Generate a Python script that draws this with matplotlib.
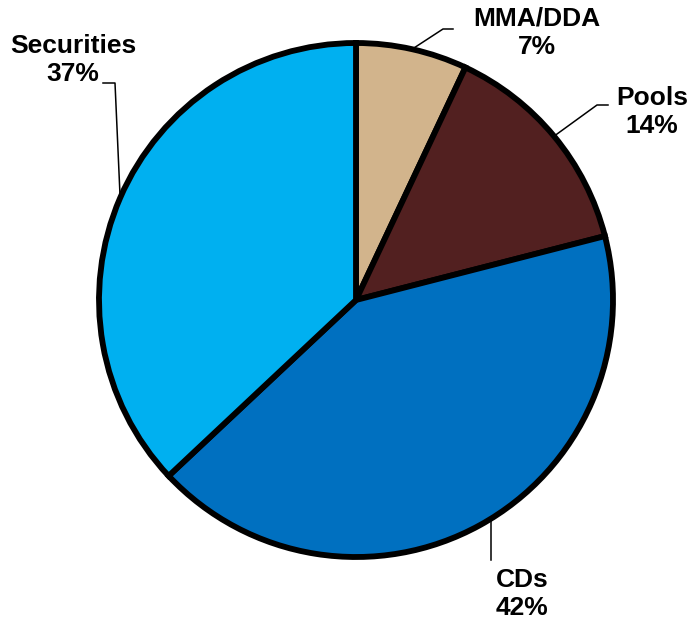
import numpy as np
import matplotlib.pyplot as plt

labels = ['MMA/DDA', 'Pools', 'CDs', 'Securities']
shares = [7, 14, 42, 37]
colors = ['#D2B48C', '#522020', '#0070C0', '#00B0F0']

# label block centre and leader-line elbow/end, in pixels from top-left
label_pos = [(537, 33), (652, 112), (522, 594), (73, 60)]
elbows = [[(443, 29), (453, 29)],
          [(597, 105), (608, 105)],
          [(491, 560)],
          [(115, 83), (103, 83)]]
# CDs line drops straight down from the rim
vertical_start = [False, False, True, False]

W, H = 696, 626
cx, cy, r = 356, 300, 257

plt.rcParams['font.family'] = ['Liberation Sans', 'DejaVu Sans']

fig = plt.figure(figsize=(W / 100, H / 100), dpi=100)
ax = fig.add_axes([0, 0, 1, 1])
ax.axis('off')

wedges, _ = ax.pie(shares, colors=colors, startangle=90, counterclock=False,
                   center=(cx, H - cy), radius=r,
                   wedgeprops=dict(edgecolor='black', linewidth=4.2))
ax.set_xlim(0, W)
ax.set_ylim(0, H)
ax.set_aspect('equal')

for w, name, val, (lx, ly), pts, vert in zip(wedges, labels, shares,
                                             label_pos, elbows, vertical_start):
    if vert:
        sx = pts[0][0]
        sy = cy + np.sqrt(r ** 2 - (sx - cx) ** 2)
    else:
        ang = np.deg2rad((w.theta1 + w.theta2) / 2)
        sx = cx + r * np.cos(ang)
        sy = cy - r * np.sin(ang)
    xs = [sx] + [p[0] for p in pts]
    ys = [H - sy] + [H - p[1] for p in pts]
    ax.plot(xs, ys, color='black', linewidth=1.1, zorder=0)
    ax.text(lx, H - ly, f'{name}\n{val}%', ha='center', va='center',
            fontsize=19, fontweight='bold', linespacing=1.22)

fig.savefig('out.png', dpi=100)
